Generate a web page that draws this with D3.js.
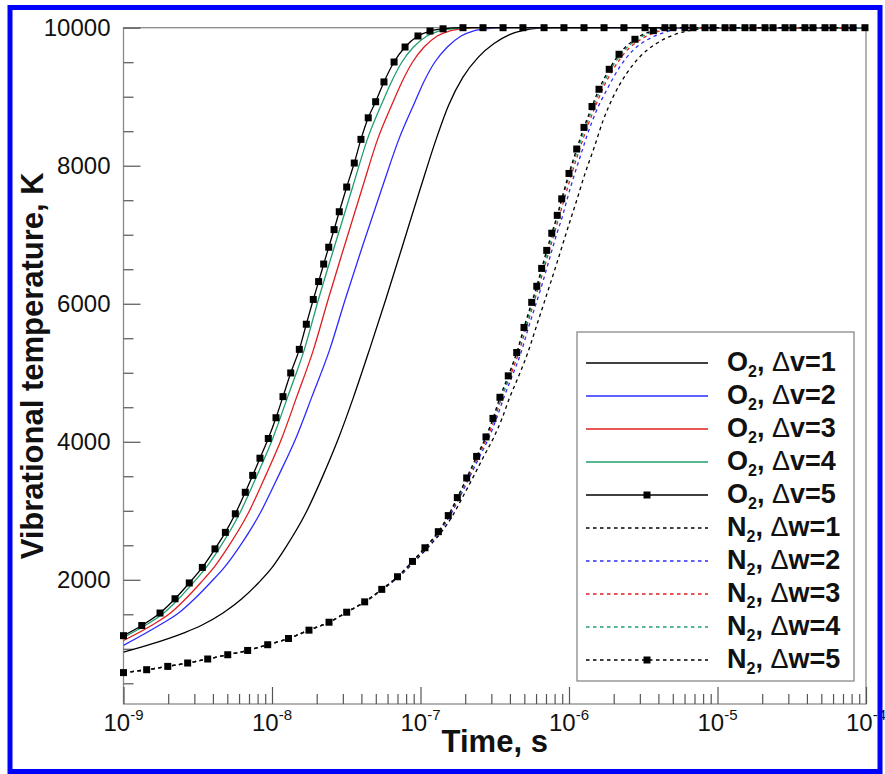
<!DOCTYPE html>
<html>
<head>
<meta charset="utf-8">
<script src="https://cdn.jsdelivr.net/npm/d3@7"></script>
<style>
  html, body { margin: 0; padding: 0; background: #fff; }
  svg { display: block; }
  text { font-family: "Liberation Sans", Arial, Helvetica, sans-serif; }
</style>
</head>
<body>
<svg id="chart" width="885" height="774"></svg>
<script>
// Vibrational relaxation: each point is [log10(time / s), vibrational temperature / K]
const o2Dv1 = [[-9.000,950],[-8.826,1059],[-8.597,1228],[-8.477,1337],[-8.330,1518],[-8.203,1725],[-8.092,1954],[-7.999,2179],[-7.914,2448],[-7.775,2956],[-7.656,3513],[-7.553,4047],[-7.450,4654],[-7.343,5339],[-7.234,6062],[-7.124,6819],[-6.998,7691],[-6.895,8382],[-6.810,8880],[-6.715,9280],[-6.612,9570],[-6.505,9770],[-6.400,9900],[-6.300,9965],[-6.200,9993],[-6.100,10000],[-4.000,10000]];
const o2Dv2 = [[-9.000,1050],[-8.762,1337],[-8.629,1518],[-8.521,1725],[-8.417,1954],[-8.321,2179],[-8.229,2448],[-8.082,2956],[-7.955,3513],[-7.840,4047],[-7.731,4654],[-7.611,5339],[-7.507,6062],[-7.393,6819],[-7.257,7691],[-7.146,8382],[-7.037,8927],[-6.978,9214],[-6.903,9503],[-6.819,9720],[-6.727,9880],[-6.646,9952],[-6.558,9984],[-6.424,10000],[-4.000,10000]];
const o2Dv3 = [[-9.000,1120],[-8.812,1337],[-8.684,1518],[-8.581,1725],[-8.482,1954],[-8.391,2179],[-8.304,2448],[-8.162,2956],[-8.042,3513],[-7.935,4047],[-7.833,4654],[-7.720,5339],[-7.622,6062],[-7.515,6819],[-7.390,7691],[-7.289,8382],[-7.184,8927],[-7.125,9214],[-7.053,9503],[-6.976,9720],[-6.887,9880],[-6.806,9952],[-6.718,9984],[-6.584,10000],[-4.000,10000]];
const o2Dv4 = [[-9.000,1165],[-8.855,1337],[-8.729,1518],[-8.628,1725],[-8.532,1954],[-8.443,2179],[-8.357,2448],[-8.219,2956],[-8.101,3513],[-7.995,4047],[-7.894,4654],[-7.782,5339],[-7.687,6062],[-7.581,6819],[-7.457,7691],[-7.358,8382],[-7.255,8927],[-7.196,9214],[-7.125,9503],[-7.047,9720],[-6.957,9880],[-6.876,9952],[-6.788,9984],[-6.654,10000],[-4.000,10000]];
const o2Dv5 = [[-9.000,1190],[-8.877,1337],[-8.754,1518],[-8.653,1725],[-8.557,1954],[-8.469,2179],[-8.384,2448],[-8.314,2687],[-8.247,2956],[-8.180,3268],[-8.130,3513],[-8.081,3762],[-8.025,4047],[-7.973,4348],[-7.926,4654],[-7.874,4997],[-7.816,5339],[-7.769,5703],[-7.722,6062],[-7.686,6321],[-7.652,6575],[-7.618,6819],[-7.582,7074],[-7.547,7333],[-7.497,7691],[-7.446,8039],[-7.401,8382],[-7.352,8694],[-7.302,8927],[-7.246,9214],[-7.178,9503],[-7.104,9720],[-7.017,9880],[-6.936,9952],[-6.848,9984],[-6.714,10000],[-6.579,10000],[-6.444,10000],[-6.310,10000],[-6.168,10000],[-6.034,10000],[-5.899,10000],[-5.764,10000],[-5.630,10000],[-5.488,10000],[-5.354,10000],[-5.219,10000],[-5.084,10000],[-4.949,10000],[-4.815,10000],[-4.680,10000],[-4.545,10000],[-4.411,10000],[-4.276,10000],[-4.141,10000],[-4.007,10000]];

const n2Dw1 = [[-9.000,655],[-8.844,697],[-8.702,745],[-8.568,794],[-8.433,852],[-8.298,914],[-8.164,976],[-8.029,1059],[-7.889,1149],[-7.751,1270],[-7.616,1385],[-7.497,1530],[-7.372,1680],[-7.255,1861],[-7.145,2044],[-7.040,2266],[-6.952,2464],[-6.857,2697],[-6.784,2930],[-6.718,3191],[-6.648,3476],[-6.574,3788],[-6.505,4070],[-6.451,4338],[-6.399,4644],[-6.338,4955],[-6.277,5293],[-6.222,5656],[-6.167,6020],[-6.093,6512],[-6.019,7022],[-5.945,7520],[-5.892,7888],[-5.834,8242],[-5.769,8663],[-5.702,9001],[-5.611,9340],[-5.522,9580],[-5.409,9774],[-5.298,9894],[-5.163,9967],[-5.017,10000],[-4.000,10000]];
const n2Dw2 = [[-9.000,655],[-8.844,697],[-8.702,745],[-8.568,794],[-8.433,852],[-8.298,914],[-8.164,976],[-8.029,1059],[-7.889,1149],[-7.751,1270],[-7.616,1385],[-7.497,1530],[-7.376,1680],[-7.258,1861],[-7.150,2044],[-7.047,2266],[-6.962,2464],[-6.870,2697],[-6.801,2930],[-6.737,3191],[-6.672,3476],[-6.601,3788],[-6.537,4070],[-6.488,4338],[-6.438,4644],[-6.382,4955],[-6.323,5293],[-6.273,5656],[-6.219,6020],[-6.185,6253],[-6.150,6512],[-6.115,6773],[-6.081,7022],[-6.042,7281],[-6.012,7520],[-5.961,7888],[-5.908,8242],[-5.881,8421],[-5.813,8808],[-5.746,9098],[-5.657,9435],[-5.567,9677],[-5.455,9846],[-5.342,9942],[-5.199,10000],[-4.000,10000]];
const n2Dw3 = [[-9.000,655],[-8.844,697],[-8.702,745],[-8.568,794],[-8.433,852],[-8.298,914],[-8.164,976],[-8.029,1059],[-7.889,1149],[-7.751,1270],[-7.616,1385],[-7.497,1530],[-7.376,1680],[-7.261,1861],[-7.155,2044],[-7.050,2266],[-6.966,2464],[-6.875,2697],[-6.807,2930],[-6.745,3191],[-6.681,3476],[-6.612,3788],[-6.549,4070],[-6.500,4338],[-6.453,4644],[-6.395,4955],[-6.338,5293],[-6.288,5656],[-6.236,6020],[-6.168,6512],[-6.099,7022],[-6.031,7520],[-5.981,7888],[-5.928,8242],[-5.878,8555],[-5.823,8858],[-5.774,9108],[-5.702,9397],[-5.633,9615],[-5.515,9832],[-5.378,9957],[-5.252,10000],[-4.000,10000]];
const n2Dw4 = [[-9.000,655],[-8.844,697],[-8.702,745],[-8.568,794],[-8.433,852],[-8.298,914],[-8.164,976],[-8.029,1059],[-7.889,1149],[-7.751,1270],[-7.616,1385],[-7.497,1530],[-7.376,1680],[-7.261,1861],[-7.155,2044],[-7.054,2266],[-6.970,2464],[-6.878,2697],[-6.749,3191],[-6.618,3788],[-6.508,4338],[-6.403,4955],[-6.297,5656],[-6.177,6512],[-6.109,7022],[-6.042,7541],[-5.940,8242],[-5.836,8858],[-5.718,9397],[-5.650,9615],[-5.539,9832],[-5.409,9957],[-5.280,10000],[-4.000,10000]];
const n2Dw5 = [[-9.000,655],[-8.844,697],[-8.702,745],[-8.568,794],[-8.433,852],[-8.298,914],[-8.164,976],[-8.029,1059],[-7.889,1149],[-7.751,1270],[-7.616,1385],[-7.497,1530],[-7.376,1680],[-7.261,1861],[-7.155,2044],[-7.054,2266],[-6.970,2464],[-6.880,2697],[-6.813,2930],[-6.752,3191],[-6.689,3476],[-6.622,3788],[-6.559,4070],[-6.512,4338],[-6.465,4644],[-6.409,4955],[-6.352,5293],[-6.303,5656],[-6.251,6020],[-6.217,6253],[-6.184,6512],[-6.150,6773],[-6.116,7022],[-6.079,7281],[-6.049,7520],[-6.000,7888],[-5.948,8242],[-5.899,8555],[-5.845,8858],[-5.798,9108],[-5.729,9397],[-5.663,9615],[-5.556,9832],[-5.432,9957],[-5.300,10000],[-5.165,10000],[-5.030,10000],[-4.896,10000],[-4.761,10000],[-4.626,10000],[-4.492,10000],[-4.357,10000],[-4.222,10000],[-4.087,10000]];

// legend text parts
const legendMolecules = ["O", "O", "O", "O", "O", "N", "N", "N", "N", "N"];
const legendQuantum   = ["v", "v", "v", "v", "v", "w", "w", "w", "w", "w"];
const legendLevels    = [1, 2, 3, 4, 5, 1, 2, 3, 4, 5];

// axis tick labels
const yTickValues = [2000, 4000, 6000, 8000, 10000];
const xTickExponents = [-9, -8, -7, -6, -5, -4];

const BLUE = "#2b2bff", RED = "#e01e1e", GREEN = "#1f9f6b";
const series = [
  { data: o2Dv1, color: "#000", dashed: false, marker: false },
  { data: o2Dv2, color: BLUE,   dashed: false, marker: false },
  { data: o2Dv3, color: RED,    dashed: false, marker: false },
  { data: o2Dv4, color: GREEN,  dashed: false, marker: false },
  { data: o2Dv5, color: "#000", dashed: false, marker: true },
  { data: n2Dw1, color: "#000", dashed: true,  marker: false },
  { data: n2Dw2, color: BLUE,   dashed: true,  marker: false },
  { data: n2Dw3, color: RED,    dashed: true,  marker: false },
  { data: n2Dw4, color: GREEN,  dashed: true,  marker: false },
  { data: n2Dw5, color: "#000", dashed: true,  marker: true }
];

const X0 = 123.5, X1 = 866, Y0 = 704, Y1 = 27.7;
const svg = d3.select("#chart");

const x = d3.scaleLog().domain([1e-9, 1e-4]).range([X0, X1]);
const y = d3.scaleLinear().domain([200, 10000]).range([Y0, Y1]);
const px = d => x(Math.pow(10, d[0]));
const py = d => y(d[1]);

svg.append("defs").append("clipPath").attr("id", "plotclip")
  .append("rect").attr("x", X0).attr("y", Y1 - 3).attr("width", X1 - X0).attr("height", Y0 - Y1 + 3);

// frame
svg.append("rect").attr("x", X0).attr("y", Y1).attr("width", X1 - X0).attr("height", Y0 - Y1)
  .attr("fill", "none").attr("stroke", "#8a8a8a").attr("stroke-width", 1.3);

// x ticks (inside)
const minorX = x.ticks().filter(v => Math.abs(Math.log10(v) - Math.round(Math.log10(v))) > 1e-6);
const majorX = xTickExponents.map(e => Math.pow(10, e));
const gx = svg.append("g").attr("transform", `translate(0,${Y0})`);
gx.append("g").call(d3.axisBottom(x).tickValues(minorX).tickSize(-10).tickSizeOuter(0).tickFormat(""));
gx.append("g").call(d3.axisBottom(x).tickValues(majorX).tickSize(-17).tickSizeOuter(0).tickFormat(""));
gx.selectAll(".domain").remove();
gx.selectAll(".tick line").attr("stroke", "#555").attr("stroke-width", 1.2);

xTickExponents.forEach(e => {
  const t = svg.append("text")
    .attr("x", x(Math.pow(10, e))).attr("y", Y0 + 27)
    .attr("text-anchor", "middle").attr("font-size", 24).attr("fill", "#111")
    .text("10");
  t.append("tspan").attr("dy", -11).attr("font-size", 15).text(String(e));
});

// y ticks (inside)
const minorY = d3.range(500, 10001, 500).filter(v => v % 2000 !== 0);
const gy = svg.append("g").attr("transform", `translate(${X0},0)`);
gy.append("g").call(d3.axisLeft(y).tickValues(minorY).tickSize(-10).tickSizeOuter(0).tickFormat(""));
gy.append("g").call(d3.axisLeft(y).tickValues(yTickValues).tickSize(-17).tickSizeOuter(0).tickPadding(13).tickFormat(d3.format("d")));
gy.selectAll(".domain").remove();
gy.selectAll(".tick line").attr("stroke", "#555").attr("stroke-width", 1.2);
gy.selectAll(".tick text").attr("font-size", 24).attr("fill", "#111")
  .attr("font-family", "'Liberation Sans', Arial, sans-serif");

// curves
const line = d3.line().x(px).y(py).curve(d3.curveMonotoneX);
const plot = svg.append("g").attr("clip-path", "url(#plotclip)");
series.forEach(s => {
  plot.append("path").datum(s.data)
    .attr("d", line)
    .attr("fill", "none")
    .attr("stroke", s.color)
    .attr("stroke-width", 1.3)
    .attr("stroke-dasharray", s.dashed ? "3.5,3.5" : null);
});
const MS = 7;
series.filter(s => s.marker).forEach(s => {
  svg.append("g").selectAll("rect").data(s.data).join("rect")
    .attr("x", d => px(d) - MS / 2).attr("y", d => py(d) - MS / 2)
    .attr("width", MS).attr("height", MS).attr("fill", "#000");
});

// legend
const LX = 577, LY = 332, LW = 277, LH = 349;
const lg = svg.append("g");
lg.append("rect").attr("x", LX).attr("y", LY).attr("width", LW).attr("height", LH)
  .attr("fill", "#fff").attr("stroke", "#888").attr("stroke-width", 1.3);
series.forEach((s, i) => {
  const ry = 363 + 33 * i;
  lg.append("line").attr("x1", 586).attr("x2", 708).attr("y1", ry).attr("y2", ry)
    .attr("stroke", s.color).attr("stroke-width", 1.3)
    .attr("stroke-dasharray", s.dashed ? "3.5,3.5" : null);
  if (s.marker) {
    lg.append("rect").attr("x", 647 - MS / 2).attr("y", ry - MS / 2)
      .attr("width", MS).attr("height", MS).attr("fill", "#000");
  }
  const t = lg.append("text").attr("x", 727).attr("y", ry + 8)
    .attr("font-size", 27).attr("font-weight", "bold").attr("fill", "#111");
  t.append("tspan").text(legendMolecules[i]);
  t.append("tspan").attr("dy", 6).attr("font-size", 16).text("2");
  t.append("tspan").attr("dy", -6).text(", ");
  t.append("tspan").attr("font-weight", "normal").text("\u0394");
  t.append("tspan").text(legendQuantum[i] + "=" + legendLevels[i]);
});

// axis titles
svg.append("text").attr("x", (X0 + X1) / 2).attr("y", 752)
  .attr("text-anchor", "middle").attr("font-size", 31).attr("font-weight", "bold").attr("fill", "#111")
  .text("Time, s");
svg.append("text").attr("transform", `translate(43,${(Y0 + Y1) / 2}) rotate(-90)`)
  .attr("text-anchor", "middle").attr("font-size", 31).attr("font-weight", "bold").attr("fill", "#111")
  .text("Vibrational temperature, K");

// outer border
svg.append("rect").attr("x", 10).attr("y", 7.5).attr("width", 870).attr("height", 764)
  .attr("fill", "none").attr("stroke", "#0000ff").attr("stroke-width", 5);
</script>
</body>
</html>
